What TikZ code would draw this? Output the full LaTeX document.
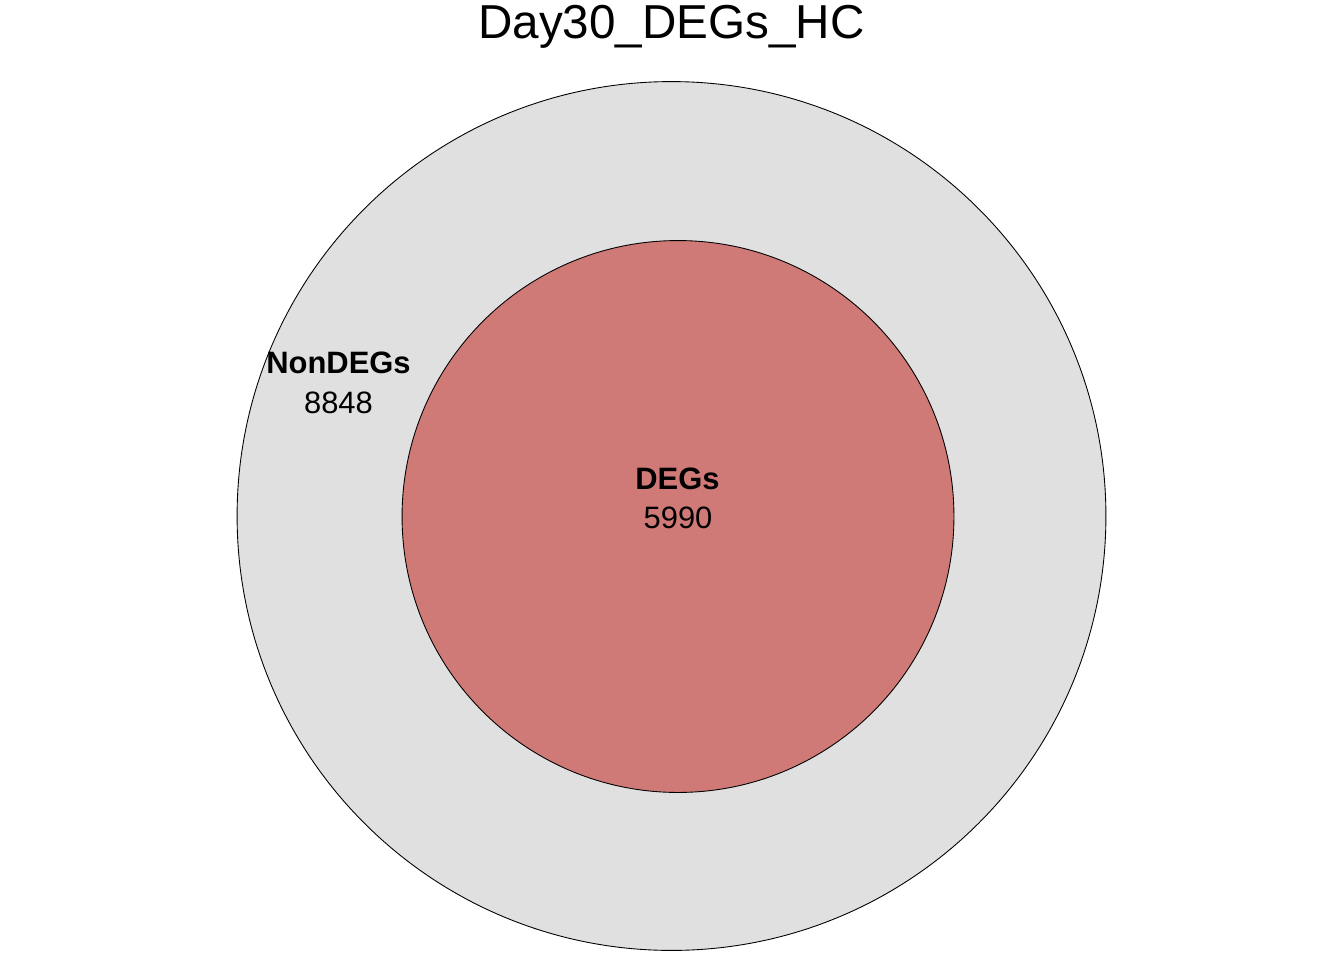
\documentclass[tikz,border=0pt]{standalone}
\usepackage{fontspec}
\setmainfont{Liberation Sans}
\usepackage{xcolor}
\usepackage{tikz}

\definecolor{outergray}{HTML}{E0E0E0}
\definecolor{degred}{HTML}{D07A78}

\begin{document}
\begin{tikzpicture}[x=0.02cm, y=-0.02cm]
    \useasboundingbox (0,0) rectangle (1344,960);

    % Title
    \node[anchor=base, inner sep=0, font=\fontsize{27.1}{32}\selectfont] (title) at (671.5,38) {Day30\_DEGs\_HC};

    % NonDEGs set
    \node[draw, circle, fill=outergray, line width=0.5pt, inner sep=0, minimum size=17.38cm] (nondeg) at (671.5,516) {};

    % DEGs set
    \node[draw, circle, fill=degred, line width=0.5pt, inner sep=0, minimum size=11.04cm] (deg) at (678,516.5) {};

    % Labels
    \node[anchor=base, inner sep=0, font=\fontsize{17.6}{21}\selectfont\bfseries] (nonname) at (338.5,373) {NonDEGs};
    \node[anchor=base, inner sep=0, font=\fontsize{17.6}{21}\selectfont] (noncount) at (338.5,413) {8848};
    \node[anchor=base, inner sep=0, font=\fontsize{17.6}{21}\selectfont\bfseries] (degname) at (677.5,489) {DEGs};
    \node[anchor=base, inner sep=0, font=\fontsize{17.6}{21}\selectfont] (degcount) at (678,528) {5990};
\end{tikzpicture}
\end{document}
